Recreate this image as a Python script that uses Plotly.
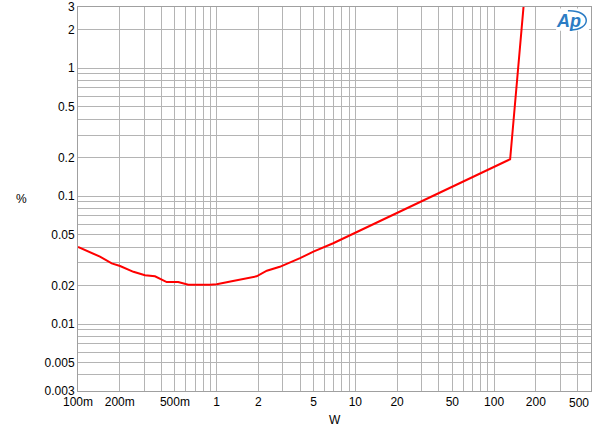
import plotly.graph_objects as go

power_w = [0.1, 0.122, 0.144, 0.175, 0.201, 0.251, 0.304, 0.359, 0.436, 0.528, 0.624, 0.895, 1.0,
           1.31, 1.55, 1.94, 2.30, 2.85, 3.99, 4.98, 6.92, 10.4, 20.9, 50.0, 130.6, 170.0]
thdn_pct = [0.040, 0.0361, 0.0336, 0.0298, 0.0284, 0.0256, 0.0241, 0.0236, 0.0213, 0.0213, 0.0203, 0.0203, 0.0205,
            0.0217, 0.0224, 0.0236, 0.0261, 0.028, 0.0327, 0.0368, 0.0428, 0.0527, 0.0752, 0.118, 0.194, 5.0]

x_tick_vals = [0.1, 0.2, 0.5, 1, 2, 5, 10, 20, 50, 100, 200]
x_tick_text = ["100m", "200m", "500m", "1", "2", "5", "10", "20", "50", "100", "200"]
x_last_label = "500"
y_tick_vals = [0.003, 0.005, 0.01, 0.02, 0.05, 0.1, 0.2, 0.5, 1, 2, 3]
y_tick_text = ["0.003", "0.005", "0.01", "0.02", "0.05", "0.1", "0.2", "0.5", "1", "2", "3"]

fig = go.Figure()
fig.add_trace(go.Scatter(x=power_w, y=thdn_pct, mode="lines",
                         line=dict(color="#ff0000", width=2), showlegend=False, cliponaxis=True))

font = dict(family="Liberation Sans, Arial, sans-serif", size=12, color="#000000")
grid = "#b4b4b4"
fig.update_xaxes(type="log", range=[-1.0001, 2.6991], tickvals=x_tick_vals, ticktext=x_tick_text,
                 showgrid=True, gridcolor=grid, gridwidth=1,
                 minor=dict(showgrid=True, gridcolor=grid, gridwidth=1, dtick="D1"),
                 showline=True, linecolor="#a0a0a0", linewidth=1, mirror=True, automargin=False,
                 ticks="", tickfont=font, zeroline=False)
fig.update_yaxes(type="log", range=[-2.5230, 0.4772], tickvals=y_tick_vals, ticktext=y_tick_text,
                 showgrid=True, gridcolor=grid, gridwidth=1,
                 minor=dict(showgrid=True, gridcolor=grid, gridwidth=1, dtick="D1"),
                 showline=True, linecolor="#a0a0a0", linewidth=1, mirror=True, automargin=False,
                 ticks="", tickfont=font, zeroline=False)

fig.update_layout(width=600, height=437, margin=dict(l=78, r=9, t=7, b=46),
                  plot_bgcolor="white", paper_bgcolor="white", font=font)

fig.add_annotation(text=x_last_label, xref="paper", yref="paper", x=1.0, y=0, xanchor="right",
                   yanchor="top", yshift=-3, showarrow=False, font=font)
fig.add_annotation(text="W", xref="paper", yref="paper", x=0.5, y=-0.075, yanchor="middle",
                   showarrow=False, font=font)
fig.add_annotation(text="%", xref="paper", x=-0.11, xanchor="center", yref="y", y=-1.02,
                   showarrow=False, font=font)
# Audio Precision logo
fig.add_shape(type="rect", xref="paper", yref="paper", x0=0.932, x1=0.996, y0=0.938, y1=0.996,
              fillcolor="white", line=dict(width=0), layer="above")
fig.add_annotation(text="<b><i>Ap</i></b>", xref="paper", yref="paper", x=0.957, y=0.964,
                   xanchor="center", yanchor="middle",
                   showarrow=False, font=dict(family="Liberation Sans, Arial", size=18, color="#2b7cc4"))
fig.add_shape(type="path", xref="paper", yref="paper",
              path="M 0.955 0.990 C 1.002 0.992, 1.002 0.940, 0.959 0.940",
              line=dict(color="#2b7cc4", width=1.5), layer="above")

fig.write_html("out.html", config={"displayModeBar": False},
               post_script="document.body.style.margin='0';document.body.style.padding='0';document.body.style.overflow='hidden';")
